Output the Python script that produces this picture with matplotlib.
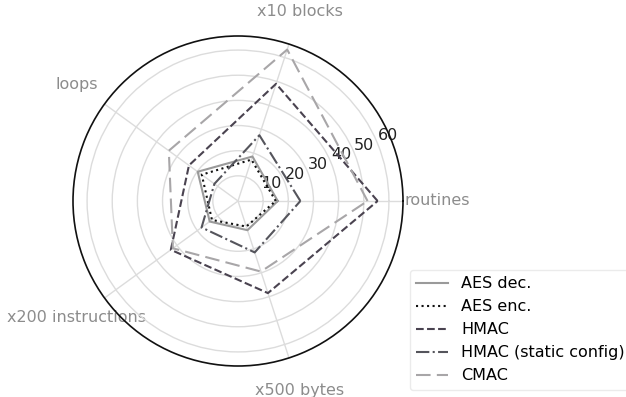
import numpy as np
import matplotlib
matplotlib.use("Agg")
import matplotlib.pyplot as plt

categories = ["routines", "x10 blocks", "loops", "x200 instructions", "x500 bytes"]
aes_dec = [15.8, 18.6, 19.8, 13.9, 12.2]
aes_enc = [15.0, 17.3, 17.8, 12.8, 10.7]
hmac = [55.5, 49.0, 24.1, 33.0, 38.5]
hmac_static = [24.8, 27.5, 11.6, 17.9, 21.5]
cmac = [51.5, 63.3, 34.0, 32.0, 29.5]
rticks = [10, 20, 30, 40, 50, 60]

series = [
    ("AES dec.", aes_dec, dict(color="#9a9a9a", linestyle="-")),
    ("AES enc.", aes_enc, dict(color="#111111", linestyle=":")),
    ("HMAC", hmac, dict(color="#4a4350", linestyle="--")),
    ("HMAC (static config)", hmac_static, dict(color="#55555c", linestyle="-.")),
    ("CMAC", cmac, dict(color="#a8a6a8", linestyle=(0, (7, 3)))),
]

fig = plt.figure(figsize=(6.26, 3.97), dpi=100)
ax = fig.add_axes([73 / 626, 31 / 397, 330 / 626, 330 / 397], projection="polar")

n = len(categories)
angles = np.arange(n) * 2 * np.pi / n
closed = np.concatenate([angles, angles[:1]])

for label, vals, st in series:
    v = list(vals) + [vals[0]]
    ax.plot(closed, v, label=label, linewidth=1.5, **st)

ax.set_ylim(0, 65.6)
ax.set_yticks(rticks)
ax.set_yticklabels([str(t) for t in rticks], fontsize=11.5, color="#222222")
ax.set_rlabel_position(22.5)
ax.set_xticks(angles)
ax.set_xticklabels(categories, fontsize=11.5, color="#8c8c8c")
ax.tick_params(axis="x", pad=14)
ax.grid(True, color="#dcdcdc", linewidth=1.0)
ax.spines["polar"].set_color("#111111")
ax.spines["polar"].set_linewidth(1.2)

leg = fig.legend(loc="upper left", bbox_to_anchor=(410 / 626, 1 - 270 / 397),
                 borderaxespad=0, fontsize=11.5, frameon=True)
leg.get_frame().set_edgecolor("#e6e6e6")

fig.savefig("out.png", dpi=100)
